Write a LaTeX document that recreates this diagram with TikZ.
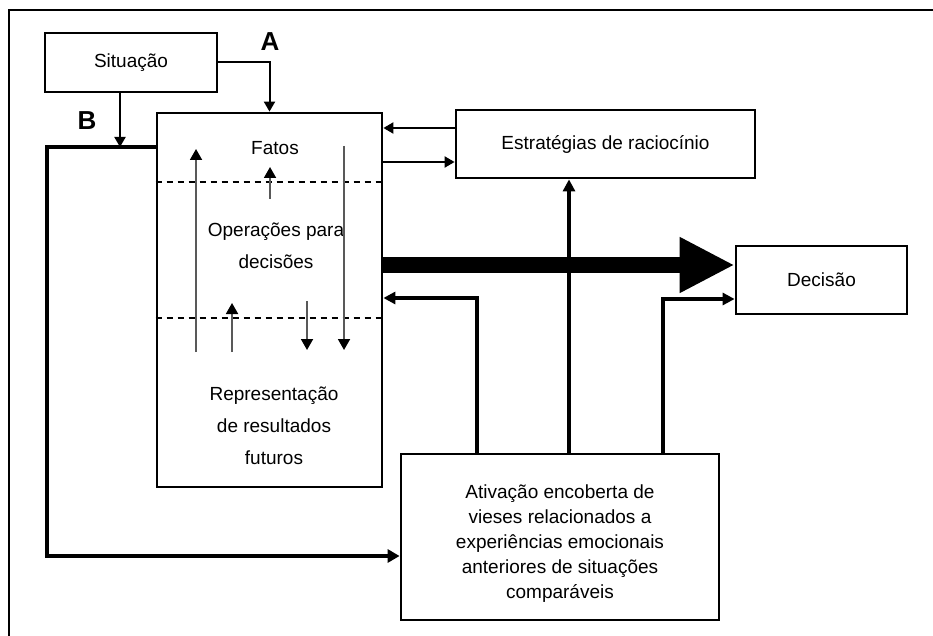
\documentclass[tikz,border=0pt]{standalone}
\usepackage{fontspec}
\setmainfont{Liberation Sans}
\usetikzlibrary{arrows.meta}

\begin{document}
\begin{tikzpicture}[
    x = 1pt,
    y = -1pt,
    font = \fontsize{19}{25}\selectfont,
    box/.style = {
      rectangle,
      draw,
      line width=2.8pt,
      inner sep=0pt
    },
    lbl/.style = {
      font=\fontsize{26}{30}\selectfont\bfseries
    },
    lnk/.style = {
      line width=2pt,
      -{Triangle[length=10pt,width=11pt]}
    },
    fbk/.style = {
      line width=4pt,
      -{Triangle[length=12pt,width=13pt]}
    },
    act/.style = {
      line width=3.6pt,
      -{Triangle[length=12pt,width=12pt]}
    },
    flow/.style = {
      draw=black!65,
      line width=1.8pt,
      -{Triangle[length=11pt,width=12pt,fill=black,color=black]}
    },
    bigarrow/.style = {
      line width=16pt,
      -{Triangle[length=55pt,width=52pt]}
    },
    sep/.style = {
      line width=1.5pt,
      dash pattern=on 6pt off 5pt
    },
    multi/.style = {
      align=center,
      font=\fontsize{19}{32}\selectfont
    }
  ]
    \useasboundingbox (0,0) rectangle (933,636);
    \draw[line width=2.8pt] (9,636) -- (9,10) -- (933,10);

    \node[box, minimum width=172, minimum height=59] (sit) at (131,62.5) {Situação};
    \node[box, minimum width=225, minimum height=374] (ops) at (269.5,300) {};
    \node[box, minimum width=299, minimum height=68] (est) at (605.5,144) {Estratégias de raciocínio};
    \node[box, minimum width=171, minimum height=68] (dec) at (821.5,280) {Decisão};
    \node[box, minimum width=318, minimum height=166] (ativ) at (560,537) {};

    \node (fatos) at (275,148) {Fatos};
    \node[multi] (oper) at (276,246) {Operações para\\decisões};
    \node[multi] (repr) at (274,426) {Representação\\de resultados\\futuros};
    \node[align=center] (ativtxt) at (560,544)
      {Ativação encoberta de\\vieses relacionados a\\experiências emocionais\\anteriores de situações\\comparáveis};

    \node[lbl] (la) at (270,42) {A};
    \node[lbl] (lb) at (87,121) {B};

    % layers inside the box
    \coordinate (d1) at (0,182);
    \coordinate (d2) at (0,318);
    \draw[sep] (ops.west |- d1) -- (ops.east |- d1);
    \draw[sep] (ops.west |- d2) -- (ops.east |- d2);

    \foreach \x/\ya/\yb in {196/352/149, 270/199/167, 232/352/303, 307/301/350, 344/146/350}
      \draw[flow] (\x,\ya) -- (\x,\yb);

    % situation
    \draw[lnk] (sit.east) -| (ops.north);
    \coordinate (bjoin) at (120,147);
    \coordinate (bturn) at (47,147);
    \draw[lnk] (sit.south -| bjoin) -- (bjoin);
    \draw[fbk] (ops.west |- bjoin) -- (bturn) |- ([yshift=-19]ativ.west);

    % reasoning strategies
    \coordinate (eup) at ([yshift=16]est.west);
    \coordinate (edn) at ([yshift=-18]est.west);
    \draw[lnk] (eup) -- (eup -| ops.east);
    \draw[lnk] (edn -| ops.east) -- (edn);

    % covert activation
    \coordinate (aleft) at ([xshift=-83]ativ.north);
    \coordinate (amid) at ([xshift=9]ativ.north);
    \coordinate (aright) at ([xshift=103]ativ.north);
    \draw[act] (aleft) |- ([yshift=2]ops.east);
    \draw[act] (amid) -- (amid |- est.south);
    \draw[act] (aright) |- ([yshift=-19]dec.west);

    \draw[bigarrow] ([yshift=35]ops.east) -- ([yshift=15]dec.west);
  \end{tikzpicture}
\end{document}
